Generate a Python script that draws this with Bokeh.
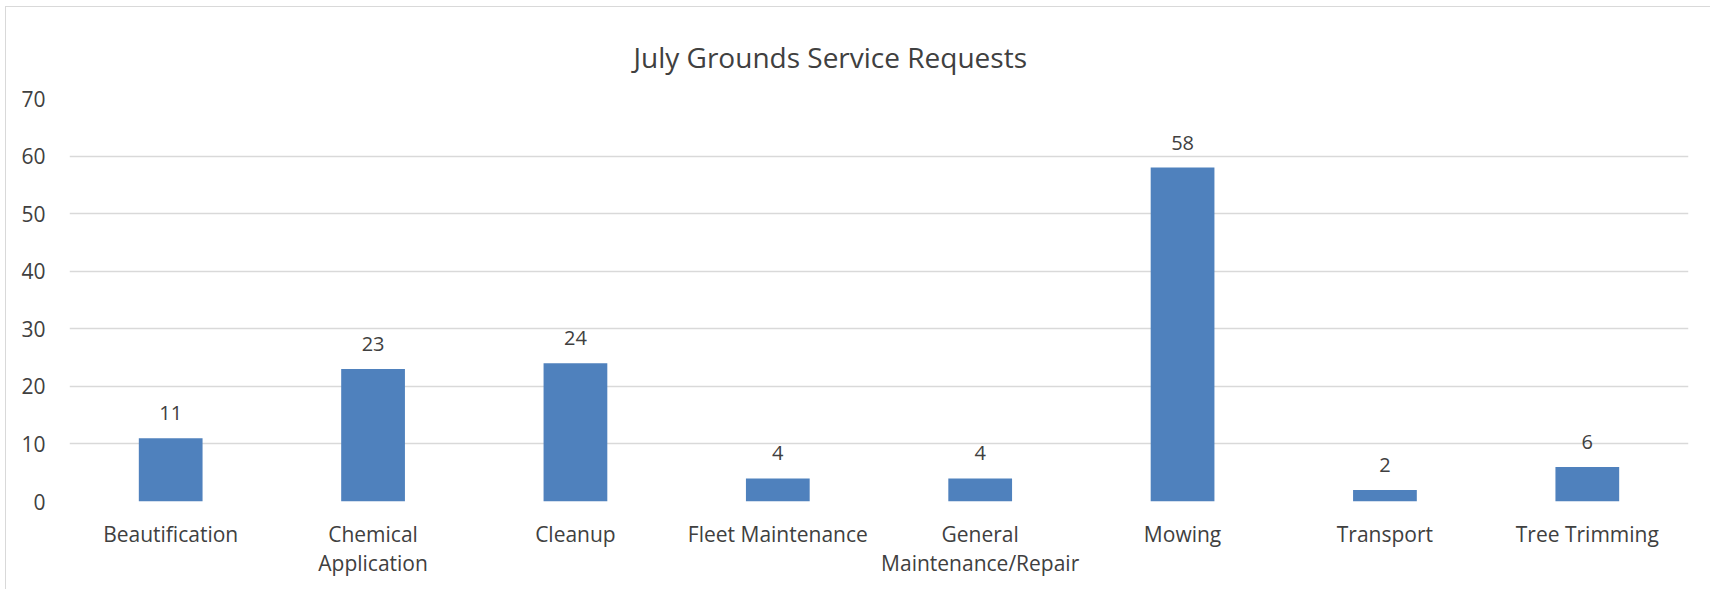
from bokeh.plotting import figure
from bokeh.models import ColumnDataSource, Range1d, FactorRange, FixedTicker
from bokeh.embed import file_html
from bokeh.resources import INLINE
from bokeh.core.properties import value

categories = ["Beautification", "Chemical\nApplication", "Cleanup", "Fleet Maintenance",
              "General\nMaintenance/Repair", "Mowing", "Transport", "Tree Trimming"]
counts = [11, 23, 24, 4, 4, 58, 2, 6]
y_ticks = [0, 10, 20, 30, 40, 50, 60, 70]
title_text = "July Grounds Service Requests"

FONT = "Open Sans"
TXT = "#404040"

src = ColumnDataSource(dict(cat=categories, val=counts, lab=[str(v) for v in counts]))

p = figure(width=1705, height=583, output_backend="svg", toolbar_location=None,
           x_range=FactorRange(*categories, range_padding=0), y_range=Range1d(0, 70),
           min_border_left=63, min_border_right=23, min_border_top=91, min_border_bottom=89)
p.styles = {"border-left": "1px solid #D9D9D9", "border-top": "1px solid #D9D9D9",
            "margin-left": "5px", "margin-top": "6px"}
p.outline_line_color = None
p.background_fill_color = "white"
p.border_fill_color = "white"

p.title.text = title_text
p.title.align = "left"
p.title.offset = 564
p.title.standoff = 42
p.title.vertical_align = "top"
p.title.text_font = FONT
p.title.text_font_size = "28px"
p.title.text_font_style = "normal"
p.title.text_color = TXT

p.vbar(x="cat", top="val", width=0.315, source=src, fill_color="#4F81BD", line_color=None)
p.text(x="cat", y="val", text="lab", source=src, text_align="center", text_baseline="middle",
       y_offset=-25, text_font=value(FONT), text_font_size="20px", text_color=TXT)

p.xgrid.grid_line_color = None
p.ygrid.grid_line_color = "#D9D9D9"
p.ygrid.grid_line_width = 1.5
p.yaxis.ticker = FixedTicker(ticks=y_ticks)

for ax in (p.xaxis[0], p.yaxis[0]):
    ax.axis_line_color = None
    ax.major_tick_line_color = None
    ax.minor_tick_line_color = None
    ax.major_label_text_font = FONT
    ax.major_label_text_color = TXT
p.yaxis.major_label_text_font_size = "21px"
p.xaxis.major_label_text_font_size = "21px"
p.yaxis.major_label_standoff = 18
p.xaxis.major_label_standoff = 12
p.xaxis.major_label_text_line_height = 1.07

open("out.html", "w").write(file_html(p, INLINE))
